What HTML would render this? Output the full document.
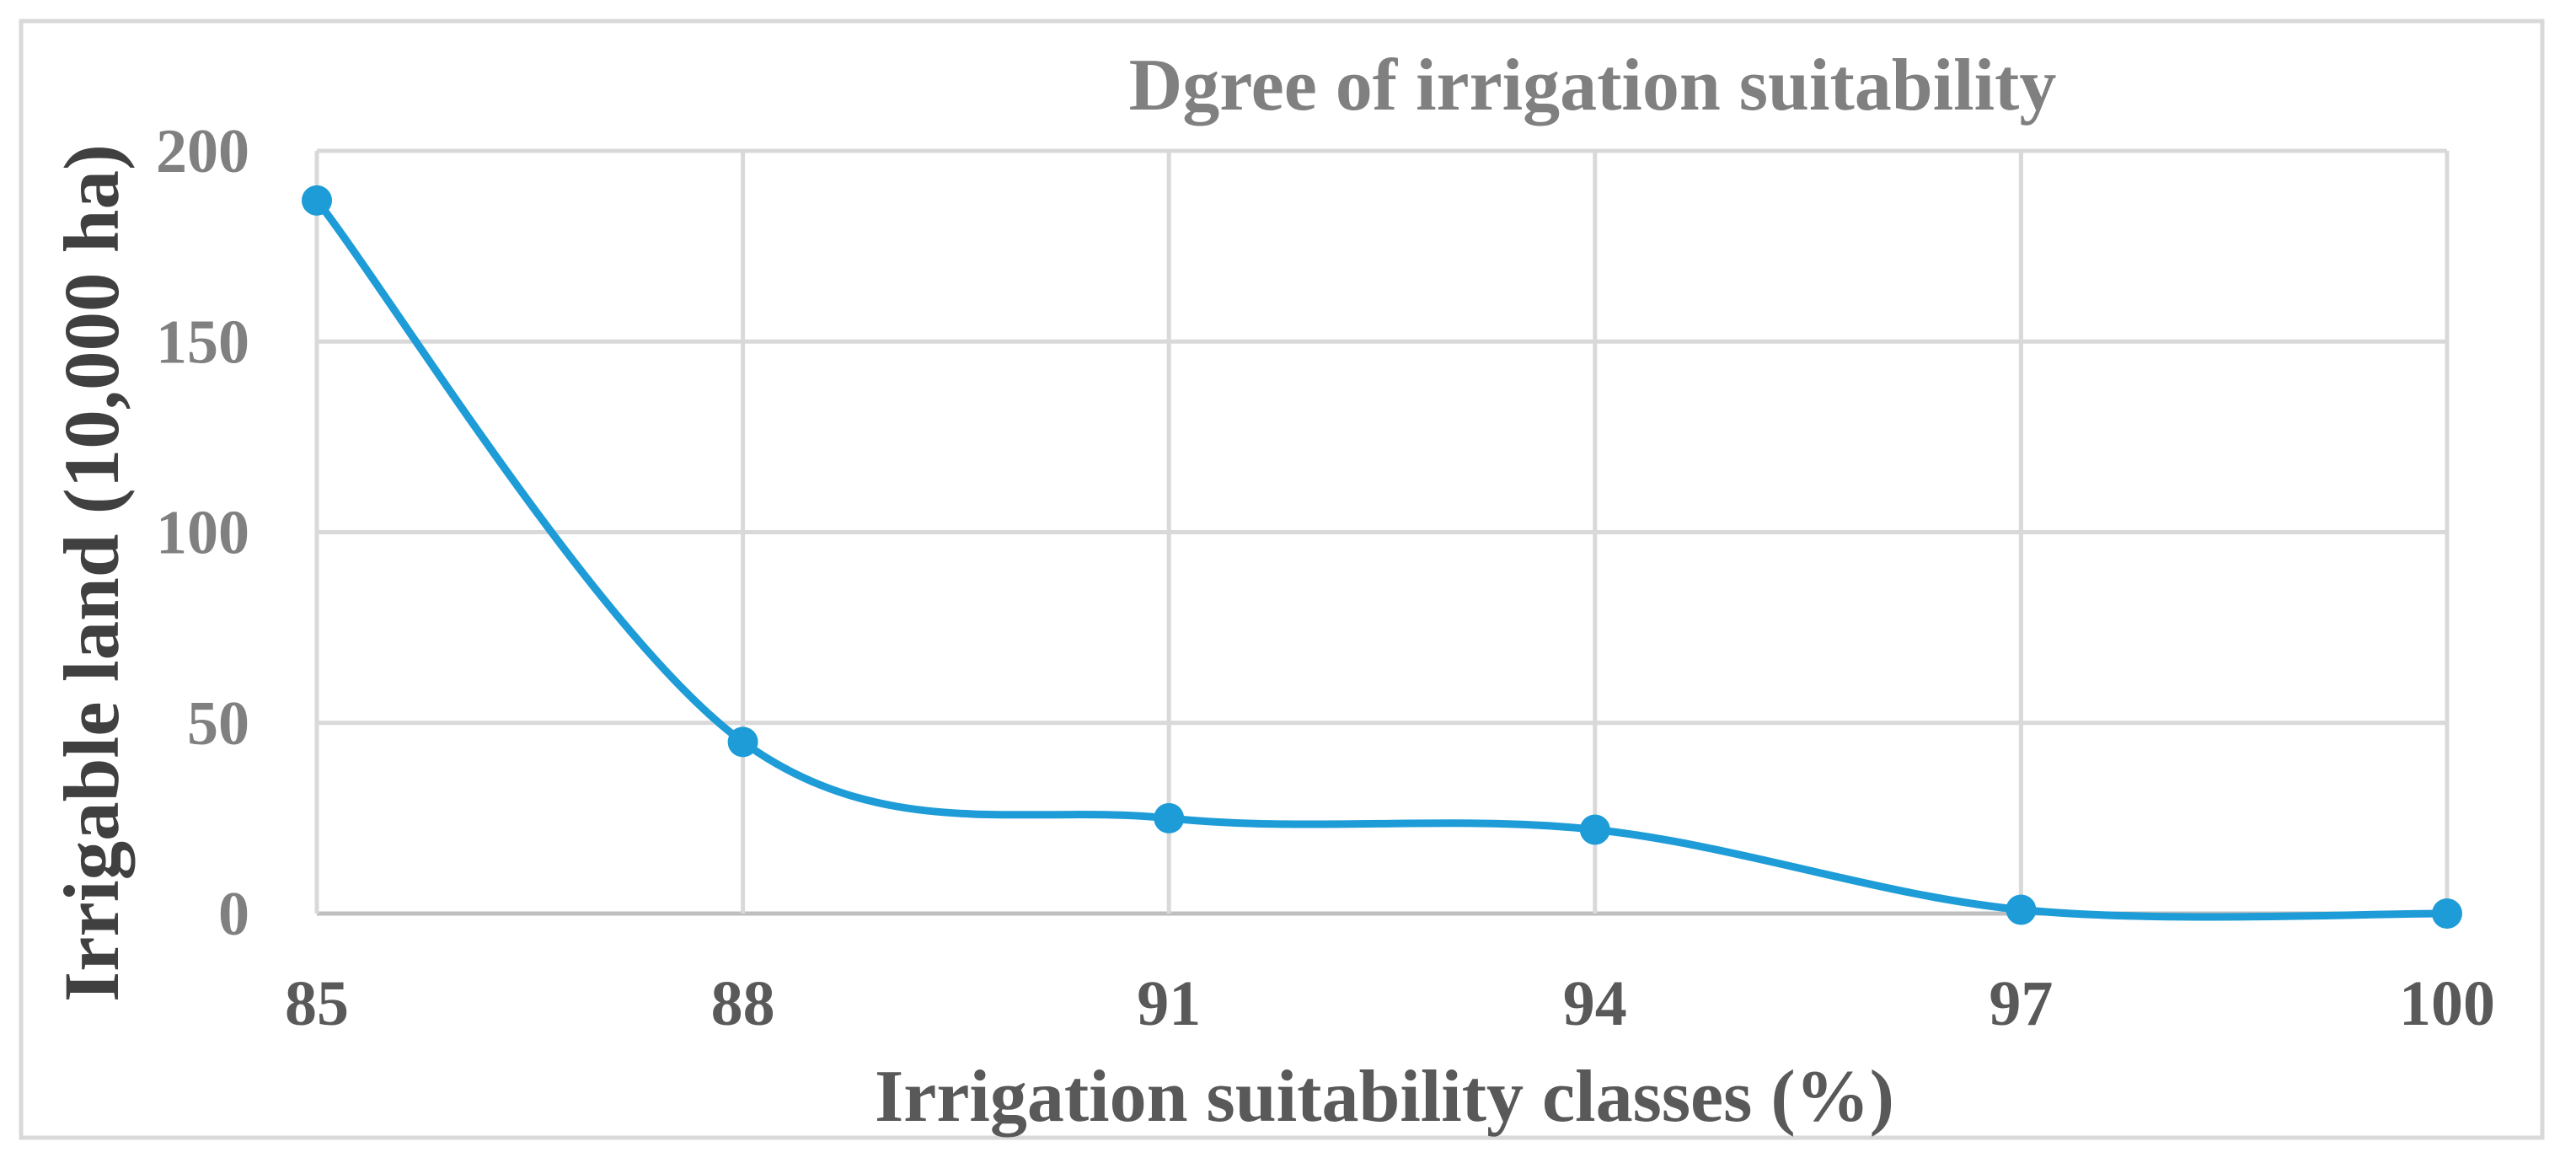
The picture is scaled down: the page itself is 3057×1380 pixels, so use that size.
<!DOCTYPE html>
<html><head><meta charset="utf-8"><style>
html,body{margin:0;padding:0;background:#fff;}
svg{display:block;}
</style></head><body>
<svg id="chart" width="3057" height="1380" viewBox="0 0 3057 1380" xmlns="http://www.w3.org/2000/svg" font-family="'Liberation Serif', serif" font-weight="bold">
<rect x="25" y="25" width="2992" height="1325" fill="#fff" stroke="#d9d9d9" stroke-width="5"/>
<text x="1890" y="130" font-size="88" fill="#808080" text-anchor="middle">Dgree of irrigation suitability</text>
<g id="grid"></g>
<g id="yticks"></g>
<g id="xticks"></g>
<g id="series"></g>
<text x="1643" y="1330" font-size="88" fill="#595959" text-anchor="middle">Irrigation suitability classes (%)</text>
<text transform="translate(140,680) rotate(-90)" font-size="93" fill="#404040" text-anchor="middle">Irrigable land (10,000 ha)</text>
</svg>
<script>
const categories = [85, 88, 91, 94, 97, 100];
const values = [187, 45, 25, 22, 1, 0];
const yTicks = [0, 50, 100, 150, 200];

const NS = "http://www.w3.org/2000/svg";
const X0 = 376, X1 = 2904, Y0 = 1084, Y1 = 179, YMAX = 200;
function xPos(i){ return X0 + (X1 - X0) * i / (categories.length - 1); }
function yPos(v){ return Y0 - (Y0 - Y1) * v / YMAX; }
function mk(tag, attrs, parent){
  const e = document.createElementNS(NS, tag);
  for (const k in attrs) e.setAttribute(k, attrs[k]);
  parent.appendChild(e); return e;
}
const grid = document.getElementById('grid');
const yt = document.getElementById('yticks');
const xt = document.getElementById('xticks');
const ser = document.getElementById('series');

yTicks.forEach(t => {
  const y = yPos(t);
  const l = mk('line', {x1: X0, x2: X1, y1: y, y2: y, stroke: t === 0 ? '#bfbfbf' : '#d9d9d9', 'stroke-width': 5}, grid);
  
  
  const tx = mk('text', {x: 296, y: y + 25, 'font-size': 74, fill: '#808080', 'text-anchor': 'end'}, yt);
  tx.textContent = t;
  
  
});
categories.forEach((c, i) => {
  const x = xPos(i);
  const l = mk('line', {x1: x, x2: x, y1: Y1, y2: Y0, stroke: '#d9d9d9', 'stroke-width': 5}, grid);
  
  
  const tx = mk('text', {x: x, y: 1216, 'font-size': 76, fill: '#595959', 'text-anchor': 'middle'}, xt);
  tx.textContent = c;
  
  
});
const pts = values.map((v, i) => [xPos(i), yPos(v)]);
let d = 'M' + pts[0][0] + ',' + pts[0][1];
for (let i = 0; i < pts.length - 1; i++) {
  const p0 = pts[Math.max(0, i - 1)], p1 = pts[i], p2 = pts[i + 1], p3 = pts[Math.min(pts.length - 1, i + 2)];
  const t = 6;
  const c1 = [p1[0] + (p2[0] - p0[0]) / t, p1[1] + (p2[1] - p0[1]) / t];
  const c2 = [p2[0] - (p3[0] - p1[0]) / t, p2[1] - (p3[1] - p1[1]) / t];
  d += ' C' + c1.join(',') + ' ' + c2.join(',') + ' ' + p2.join(',');
}
const path = mk('path', {d: d, fill: 'none', stroke: '#1E9CD7', 'stroke-width': 9, 'stroke-linecap': 'round'}, ser);


pts.forEach(p => {
  const c = mk('circle', {cx: p[0], cy: p[1], r: 18, fill: '#1E9CD7'}, ser);
  
  
});
</script>
</body></html>
